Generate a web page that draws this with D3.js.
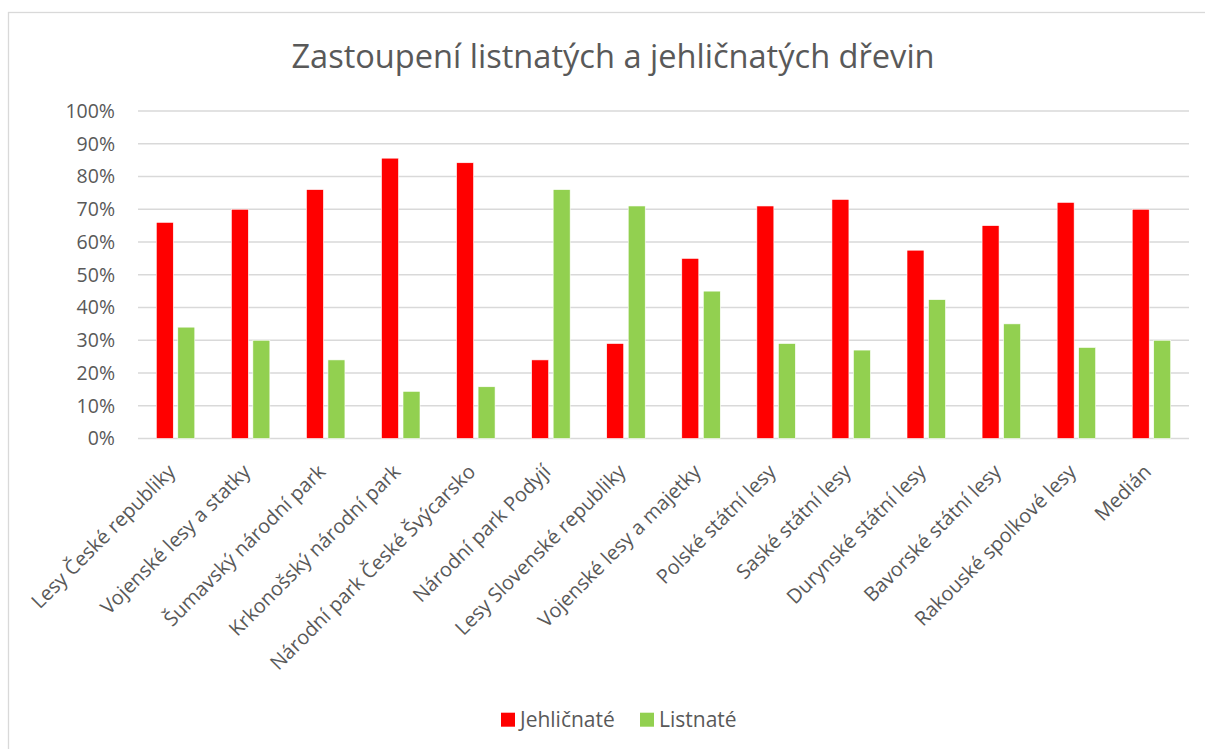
<!DOCTYPE html>
<html><head><meta charset="utf-8">
<script src="https://cdn.jsdelivr.net/npm/d3@7"></script>
<style>body{margin:0;background:#fff}svg{display:block}text{font-family:"Open Sans",sans-serif;fill:#595959}</style>
</head><body>
<svg id="c" width="1205" height="749"></svg>
<script>
const categories = ["Lesy České republiky","Vojenské lesy a statky","Šumavský národní park","Krkonošský národní park","Národní park České Švýcarsko","Národní park Podyjí","Lesy Slovenské republiky","Vojenské lesy a majetky","Polské státní lesy","Saské státní lesy","Durynské státní lesy","Bavorské státní lesy","Rakouské spolkové lesy","Medián"];
const seriesNames = ["Jehličnaté","Listnaté"];
const jehlicnate = [0.66,0.70,0.76,0.856,0.842,0.24,0.29,0.55,0.71,0.73,0.575,0.65,0.721,0.70];
const listnate   = [0.34,0.30,0.24,0.144,0.158,0.76,0.71,0.45,0.29,0.27,0.424,0.35,0.278,0.30];
const yTicks = [0,0.1,0.2,0.3,0.4,0.5,0.6,0.7,0.8,0.9,1.0];
const colors = ["#FF0000","#92D050"];
const title = "Zastoupení listnatých a jehličnatých dřevin";

const svg = d3.select("#c");
svg.append("rect").attr("x",8.5).attr("y",12.5).attr("width",1205).attr("height",750)
  .attr("fill","#fff").attr("stroke","#d9d9d9").attr("stroke-width",1.3);

const plot = {l:138, r:1189, t:111, b:438.5};
const x = d3.scaleBand().domain(categories).range([plot.l, plot.r]).paddingInner(0).paddingOuter(0);
const xs = d3.scaleBand().domain(seriesNames).range([0, x.bandwidth()]).paddingInner(0.21).paddingOuter(0.85);
const y = d3.scaleLinear().domain([0,1]).range([plot.b, plot.t]);

svg.append("text").attr("x",613).attr("y",68).attr("text-anchor","middle")
  .style("font-size","32.6px").text(title);

// gridlines
svg.append("g").selectAll("line").data(yTicks).join("line")
  .attr("x1",plot.l).attr("x2",plot.r).attr("y1",d=>y(d)).attr("y2",d=>y(d))
  .attr("stroke","#d9d9d9").attr("stroke-width",1.3);

// y axis labels
const yAxis = d3.axisLeft(y).tickValues(yTicks).tickFormat(d3.format(".0%")).tickSize(0).tickPadding(0);
const ya = svg.append("g").attr("transform",`translate(115,0)`).call(yAxis);
ya.select(".domain").remove();
ya.selectAll("text").style("font-size","19.5px").style("font-family","Open Sans").attr("fill","#595959");

// bars
const data = categories.map((c,i)=>({c, vals:[jehlicnate[i], listnate[i]]}));
const g = svg.append("g").selectAll("g").data(data).join("g").attr("transform",d=>`translate(${x(d.c)},0)`);
g.selectAll("rect").data(d=>d.vals.map((v,j)=>({s:seriesNames[j], v, j}))).join("rect")
  .attr("x",d=>xs(d.s)).attr("width",xs.bandwidth())
  .attr("y",d=>y(d.v)).attr("height",d=>y(0)-y(d.v))
  .attr("fill",d=>colors[d.j]).attr("stroke","#fff").attr("stroke-width",0.6);

// x labels
svg.append("g").selectAll("text").data(categories).join("text")
  .attr("transform",d=>`translate(${x(d)+x.bandwidth()/2-4},${468}) rotate(-45)`)
  .attr("text-anchor","end").attr("dy","0.35em").style("font-size","20px").text(d=>d);

// legend
const lg = svg.append("g");
const legX = [501, 640];
seriesNames.forEach((s,i)=>{
  lg.append("rect").attr("x",legX[i]).attr("y",712.7).attr("width",14).attr("height",14).attr("fill",colors[i]);
  lg.append("text").attr("x",legX[i]+19).attr("y",726.5).style("font-size","21px").text(s);
});
</script>
</body></html>
